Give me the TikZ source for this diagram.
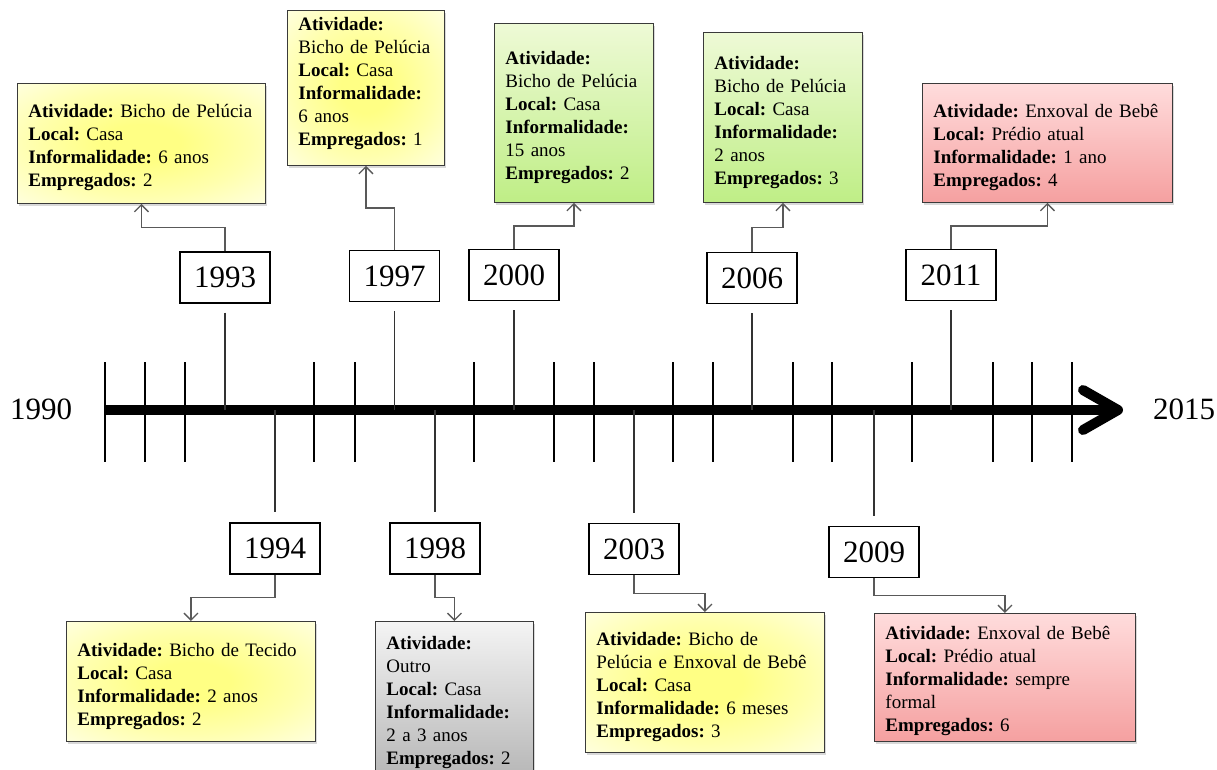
\documentclass[tikz,border=0pt]{standalone}
\usepackage{fontspec}
\setmainfont{Liberation Serif}
\usetikzlibrary{arrows.meta,shadows,calc}

\definecolor{linkgray}{HTML}{595959}
\definecolor{boxedge}{HTML}{3A3A3A}
\definecolor{yelIn}{HTML}{FFFF84}
\definecolor{yelOut}{HTML}{FFFFE0}
\definecolor{grnTop}{HTML}{EEFAD6}
\definecolor{grnBot}{HTML}{BFEE86}
\definecolor{redTop}{HTML}{FFDCDC}
\definecolor{redBot}{HTML}{F5A0A0}
\definecolor{gryTop}{HTML}{F4F4F4}
\definecolor{gryBot}{HTML}{B4B4B4}

% soft yellow glow used inside the yellow boxes
\pgfdeclareradialshading{yelglow}{\pgfpoint{0bp}{0bp}}{%
  color(0bp)=(yelIn); color(8bp)=(yelIn); color(22bp)=(yelIn!55!yelOut); color(36bp)=(yelOut); color(50bp)=(yelOut)}

% invisible struts that nudge a text block down (\Dn) or up (\Up)
\newcommand{\Dn}[1]{\rule{0pt}{#1}}
\newcommand{\Up}[1]{\rule[-#1]{0pt}{#1}}

\begin{document}
\frenchspacing
\begin{tikzpicture}[x=1pt,y=-1pt,
  yearbox/.style={draw=black,line width=1.2pt,fill=white,minimum width=90pt,
    minimum height=51pt,inner sep=0pt,font=\fontsize{31}{34}\selectfont},
  endyear/.style={inner sep=0pt,font=\fontsize{31}{34}\selectfont},
  infobox/.style={draw=boxedge,line width=0.9pt,anchor=north west,inner xsep=11pt,
    inner ysep=4pt,align=left,font=\fontsize{19}{23}\selectfont,
    drop shadow={shadow xshift=2pt,shadow yshift=-3pt,opacity=0.3}},
  yel/.style={shading=yelglow},
  grn/.style={top color=grnTop,bottom color=grnBot},
  rosa/.style={top color=redTop,bottom color=redBot},
  cinza/.style={top color=gryTop,bottom color=gryBot},
  link/.style={draw=linkgray,line width=1.3pt,
    -{Straight Barb[length=7pt,width=14pt]}},
  tick/.style={line width=1.1pt},
  stem/.style={line width=1.1pt,draw=black!80},
]
\useasboundingbox (0,0) rectangle (1217,769);

% ---- time axis ----
\coordinate (axL) at (105,410);
\coordinate (axR) at (1123,410);
\node[endyear] (y1990) at (41,409) {1990};
\node[endyear] (y2015) at (1184,409) {2015};

\foreach \x in {105,145,185,314,355,474,554,594,673,713,793,832,912,993,1032,1072}
  \draw[tick] (\x,362) -- (\x,462);

\draw[line width=10pt,-{Straight Barb[length=35pt,width=40pt,line cap=round,line join=round]}]
  (axL) -- (axR);

% ---- year labels ----
\node[yearbox] (y1993) at (225,277.5) {1993};
\node[yearbox] (y1997) at (394.5,276) {1997};
\node[yearbox] (y2000) at (514,275) {2000};
\node[yearbox] (y2006) at (752,278) {2006};
\node[yearbox] (y2011) at (951,275) {2011};
\node[yearbox] (y1994) at (275,548.5) {1994};
\node[yearbox] (y1998) at (435,548.5) {1998};
\node[yearbox] (y2003) at (634,549) {2003};
\node[yearbox] (y2009) at (874,552) {2009};

% stems between axis and year labels
\foreach \y in {y1993,y1997,y2000,y2006,y2011}
  \draw[stem] ($(\y.south)+(0,9)$) -- (\y.south |- axL);
\foreach \y in {y1994,y1998,y2003,y2009}
  \draw[stem] (\y.north |- axL) -- ($(\y.north)+(0,-10)$);

% ---- detail boxes ----
\node[infobox,yel,minimum width=248pt,minimum height=120pt,text width=226pt] (i1993) at (17,83)
  {\Dn{22pt}\textbf{Atividade:} Bicho de Pelúcia\\\textbf{Local:} Casa\\\textbf{Informalidade:} 6 anos\\\textbf{Empregados:} 2};

\node[infobox,yel,minimum width=157pt,minimum height=155pt,text width=135pt] (i1997) at (287,10)
  {\textbf{Atividade:}\\Bicho de Pelúcia\\\textbf{Local:} Casa\\\textbf{Informalidade:}\\6 anos\\\textbf{Empregados:} 1\Up{13pt}};

\node[infobox,grn,minimum width=159pt,minimum height=179pt,text width=137pt] (i2000) at (494,23)
  {\Dn{23pt}\textbf{Atividade:}\\Bicho de Pelúcia\\\textbf{Local:} Casa\\\textbf{Informalidade:}\\15 anos\\\textbf{Empregados:} 2};

\node[infobox,grn,minimum width=159pt,minimum height=170pt,text width=137pt] (i2006) at (703,32)
  {\Dn{24pt}\textbf{Atividade:}\\Bicho de Pelúcia\\\textbf{Local:} Casa\\\textbf{Informalidade:}\\2 anos\\\textbf{Empregados:} 3};

\node[infobox,rosa,minimum width=250pt,minimum height=119pt,text width=228pt] (i2011) at (922,83)
  {\Dn{22pt}\textbf{Atividade:} Enxoval de Bebê\\\textbf{Local:} Prédio atual\\\textbf{Informalidade:} 1 ano\\\textbf{Empregados:} 4};

\node[infobox,yel,minimum width=249pt,minimum height=120pt,text width=227pt] (i1994) at (66,621)
  {\Dn{23pt}\textbf{Atividade:} Bicho de Tecido\\\textbf{Local:} Casa\\\textbf{Informalidade:} 2 anos\\\textbf{Empregados:} 2};

\node[infobox,cinza,minimum width=158pt,minimum height=162pt,text width=136pt] (i1998) at (375,621)
  {\textbf{Atividade:}\\Outro\\\textbf{Local:} Casa\\\textbf{Informalidade:}\\2 a 3 anos\\\textbf{Empregados:} 2};

\node[infobox,yel,minimum width=239pt,minimum height=140pt,text width=217pt] (i2003) at (585,612)
  {\Dn{22pt}\textbf{Atividade:} Bicho de\\Pelúcia e Enxoval de Bebê\\\textbf{Local:} Casa\\\textbf{Informalidade:} 6 meses\\\textbf{Empregados:} 3};

\node[infobox,rosa,minimum width=261pt,minimum height=128pt,text width=239pt] (i2009) at (874,613)
  {\Dn{20pt}\textbf{Atividade:} Enxoval de Bebê\\\textbf{Local:} Prédio atual\\\textbf{Informalidade:} sempre\\formal\\\textbf{Empregados:} 6};

% ---- elbow links from year labels to detail boxes ----
\foreach \y/\i in {y1993/i1993,y1997/i1997,y2000/i2000,y2006/i2006,y2011/i2011}
  \draw[link] (\y.north) |- ($(\y.north)!.5!(\i.south)$) -| (\i.south);
\foreach \y/\i in {y1994/i1994,y1998/i1998,y2003/i2003,y2009/i2009}
  \draw[link] (\y.south) |- ($(\y.south)!.5!(\i.north)$) -| (\i.north);
\end{tikzpicture}
\end{document}
